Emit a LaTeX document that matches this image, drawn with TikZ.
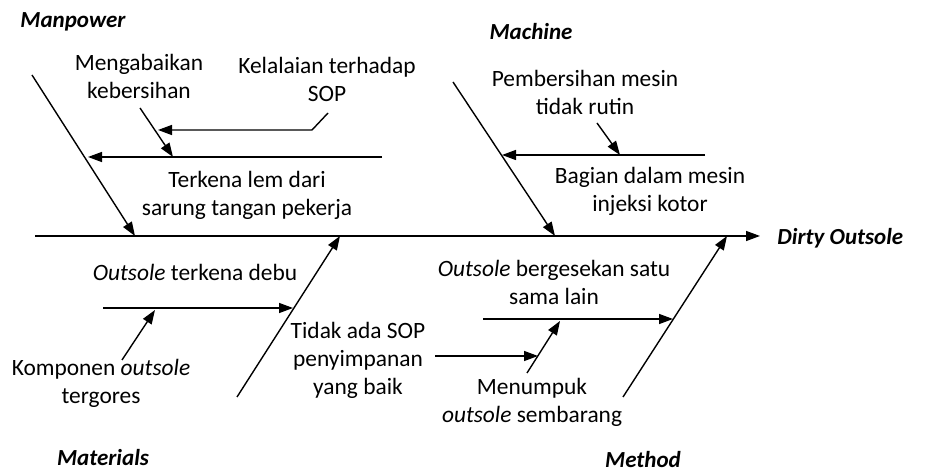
\documentclass[tikz,border=0pt]{standalone}
\usepackage{fontspec}
\setmainfont{Carlito}
\usetikzlibrary{arrows.meta}

\begin{document}
\begin{tikzpicture}[x=0.5pt, y=-0.5pt,
    cause/.style={align=center, font=\fontsize{11.7}{14}\selectfont, inner sep=0pt},
    group/.style={font=\fontsize{11.5}{14}\selectfont\bfseries\itshape, inner sep=0pt},
    arrow/.style={-{Triangle[length=7pt,width=5pt]}, line width=0.7pt},
    line/.style={line width=0.7pt}
]
\useasboundingbox (0,0) rectangle (925,474);

\coordinate (tail) at (35,236);
\coordinate (head) at (760,236);
\node[group, anchor=west] (effect) at (777,238) {Dirty Outsole};
\draw[arrow] (tail) -- (head);

\node[group] (manpower) at (73,22) {Manpower};
\node[group] (machine) at (531,32) {Machine};
\node[group] (materials) at (103,458) {Materials};
\node[group] (method) at (643,460) {Method};

\coordinate (manTop) at (32,75);
\coordinate (manEnd) at (135,236);
\coordinate (macTop) at (453,82);
\coordinate (macEnd) at (555,236);
\coordinate (matBot) at (237,397);
\coordinate (matEnd) at (340,236);
\coordinate (metBot) at (623,397);
\coordinate (metEnd) at (727,236);
\draw[arrow] (manTop) -- (manEnd);
\draw[arrow] (macTop) -- (macEnd);
\draw[arrow] (matBot) -- (matEnd);
\draw[arrow] (metBot) -- (metEnd);

\node[cause] (lem) at (247,195) {Terkena lem dari\\sarung tangan pekerja};
\node[cause] (bersih) at (139,76) {Mengabaikan\\kebersihan};
\node[cause] (lalai) at (327,79) {Kelalaian terhadap\\SOP};
\coordinate (lemStart) at (382,157);
\coordinate (lemEnd) at (88,157);
\coordinate (bersihStart) at (140,108);
\coordinate (bersihEnd) at (173,157);
\coordinate (lalaiStart) at (328,113);
\coordinate (lalaiBend) at (312,130);
\coordinate (lalaiEnd) at (158,130);
\draw[arrow] (lemStart) -- (lemEnd);
\draw[arrow] (bersihStart) -- (bersihEnd);
\draw[arrow] (lalaiStart) -- (lalaiBend) -- (lalaiEnd);

\node[cause] (rutin) at (585,92) {Pembersihan mesin\\tidak rutin};
\node[cause] (injeksi) at (650,191) {Bagian dalam mesin\\injeksi kotor};
\coordinate (injStart) at (705,155);
\coordinate (injEnd) at (502,155);
\coordinate (rutinStart) at (597,123);
\coordinate (rutinEnd) at (620,155);
\draw[arrow] (injStart) -- (injEnd);
\draw[arrow] (rutinStart) -- (rutinEnd);

\node[cause] (debu) at (195,272) {\textit{Outsole} terkena debu};
\node[cause] (gores) at (101,383) {Komponen \textit{outsole}\\tergores};
\node[cause] (simpan) at (358,360) {Tidak ada SOP\\penyimpanan\\yang baik};
\coordinate (debuStart) at (103,308);
\coordinate (debuEnd) at (293,308);
\coordinate (goresStart) at (122,360);
\coordinate (goresEnd) at (155,310);
\draw[arrow] (debuStart) -- (debuEnd);
\draw[arrow] (goresStart) -- (goresEnd);

\node[cause] (gesek) at (554,282) {\textit{Outsole} bergesekan satu\\sama lain};
\node[cause] (tumpuk) at (532,402) {Menumpuk\\\textit{outsole} sembarang};
\coordinate (gesekStart) at (483,319);
\coordinate (gesekEnd) at (673,319);
\coordinate (tumpukStart) at (527,373);
\coordinate (tumpukEnd) at (560,321);
\coordinate (sopStart) at (435,356);
\coordinate (sopEnd) at (538,356);
\draw[arrow] (gesekStart) -- (gesekEnd);
\draw[arrow] (tumpukStart) -- (tumpukEnd);
\draw[arrow] (sopStart) -- (sopEnd);
\end{tikzpicture}
\end{document}
